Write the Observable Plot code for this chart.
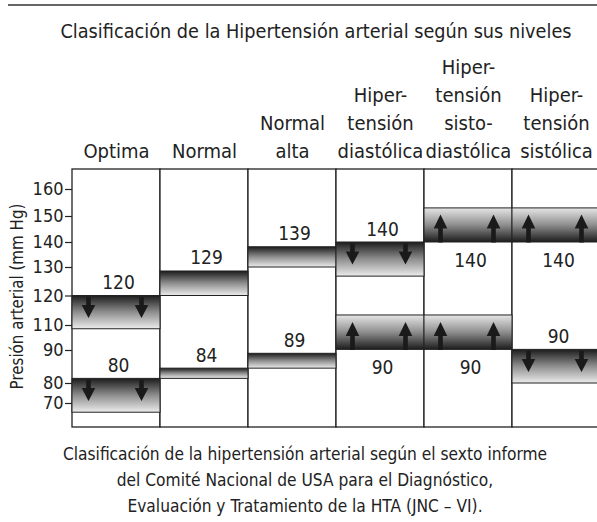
<!DOCTYPE html>
<html>
<head>
<meta charset="utf-8">
<script src="https://cdn.jsdelivr.net/npm/d3@7"></script>
<script src="https://cdn.jsdelivr.net/npm/@observablehq/plot@0.6"></script>
<style>
  html, body { margin: 0; padding: 0; background: #fff; width: 597px; height: 522px; overflow: hidden; }
  body { position: relative; font-family: "DejaVu Sans Condensed", "DejaVu Sans", sans-serif; font-stretch: condensed; color: #222; }
  #rule { position: absolute; left: 8px; top: 4px; width: 589px; height: 2px; background: #666; }
  #title { position: absolute; left: 0; width: 632px; top: 20px; font-size: 19.7px; text-align: center; white-space: nowrap; }
  #chart { position: absolute; left: 0; top: 50px; }
  #caption { position: absolute; left: 0; width: 610px; top: 441px; font-size: 17.2px; line-height: 26px; text-align: center; white-space: nowrap; }
</style>
</head>
<body>
<div id="rule"></div>
<div id="title"></div>
<div id="chart"></div>
<div id="caption"></div>
<script>
// ---- data ----
const titleText = "Clasificación de la Hipertensión arterial según sus niveles";
const captionLines = [
  "Clasificación de la hipertensión arterial según el sexto informe",
  "del Comité Nacional de USA para el Diagnóstico,",
  "Evaluación y Tratamiento de la HTA (JNC – VI)."
];
const yLabel = "Presión arterial (mm Hg)";
const categories = ["Optima", "Normal", "Normal alta", "Hipertensión diastólica", "Hipertensión sisto-diastólica", "Hipertensión sistólica"];
const headerLabels = ["Optima", "Normal", "Normal\nalta", "Hiper-\ntensión\ndiastólica", "Hiper-\ntensión\nsisto-\ndiastólica", "Hiper-\ntensión\nsistólica"];
const yTicks = [160, 150, 140, 130, 120, 110, 90, 80, 70];

const systolicLabels = [120, 129, 139, 140, 140, 140];
const systolicTop = [120, 128.6, 138.1, 140, 153, 153];
const systolicBottom = [107, 120, 130, 126.8, 140, 140];
const systolicArrow = ["down", "none", "none", "down", "up", "up"];
const systolicLabelSide = ["above", "above", "above", "above", "below", "below"];

const diastolicLabels = [80, 84, 89, 90, 90, 90];
const diastolicTop = [81.4, 84.5, 89, 113.4, 113.4, 90.5];
const diastolicBottom = [65.4, 81.4, 84.5, 90.5, 90.5, 80];
const diastolicArrow = ["down", "none", "none", "up", "up", "down"];
const diastolicLabelSide = ["above", "above", "above", "below", "below", "above"];

// ---- build ----
document.getElementById("title").textContent = titleText;
const cap = document.getElementById("caption");
captionLines.forEach(t => { const d = document.createElement("div"); d.textContent = t; cap.appendChild(d); });

const bands = categories.flatMap((cat, i) => [
  {cat, top: systolicTop[i], bottom: systolicBottom[i], arrow: systolicArrow[i], label: systolicLabels[i], side: systolicLabelSide[i]},
  {cat, top: diastolicTop[i], bottom: diastolicBottom[i], arrow: diastolicArrow[i], label: diastolicLabels[i], side: diastolicLabelSide[i]}
]);
const darkTop = bands.filter(d => d.arrow !== "up");
const darkBottom = bands.filter(d => d.arrow === "up");
const downs = bands.filter(d => d.arrow === "down");
const ups = bands.filter(d => d.arrow === "up");
const above = bands.filter(d => d.side === "above");
const below = bands.filter(d => d.side === "below");

const arrowDown = {draw(ctx) {
  ctx.moveTo(-2.3, 1); ctx.lineTo(2.3, 1); ctx.lineTo(2.3, 9); ctx.lineTo(6.8, 9);
  ctx.lineTo(0, 22); ctx.lineTo(-6.8, 9); ctx.lineTo(-2.3, 9); ctx.closePath();
}};
const arrowUp = {draw(ctx) {
  ctx.moveTo(-2.3, 0); ctx.lineTo(2.3, 0); ctx.lineTo(2.3, -14); ctx.lineTo(6.8, -14);
  ctx.lineTo(0, -28); ctx.lineTo(-6.8, -14); ctx.lineTo(-2.3, -14); ctx.closePath();
}};

const FONT = "'DejaVu Sans Condensed', 'DejaVu Sans', sans-serif";

const chart = Plot.plot({
  width: 597,
  height: 382,
  marginTop: 119,
  marginBottom: 5,
  marginLeft: 72,
  marginRight: 0,
  style: {fontFamily: FONT, fontStretch: "condensed", color: "#222", background: "transparent", overflow: "visible"},
  x: {type: "band", domain: categories, range: [72, 600], padding: 0},
  y: {type: "linear", domain: yTicks.slice().reverse(), range: [353, 333, 300, 275, 245.5, 217, 192, 166, 139]},
  marks: [
    Plot.axisX({anchor: "top", tickSize: 0, tickPadding: 12, fontSize: 20, lineHeight: 1.4, label: null,
      tickFormat: d => headerLabels[categories.indexOf(d)]}),
    Plot.axisY({ticks: yTicks, tickSize: 11, tickPadding: 2, dx: 4, fontSize: 18, label: null, strokeWidth: 1.2}),
    Plot.cell(categories, {x: d => d, fill: "white", stroke: "#222", strokeWidth: 1.3, inset: 0}),
    Plot.barY(darkTop, {x: "cat", y1: "bottom", y2: "top", fill: "url(#gDown)", stroke: "#222", strokeWidth: 1, inset: 0}),
    Plot.barY(darkBottom, {x: "cat", y1: "bottom", y2: "top", fill: "url(#gUp)", stroke: "#222", strokeWidth: 1, inset: 0}),
    Plot.dot(downs, {x: "cat", y: "top", symbol: arrowDown, r: 11, dx: -28, fill: "#1a1a1a", stroke: "none"}),
    Plot.dot(downs, {x: "cat", y: "top", symbol: arrowDown, r: 11, dx: 25, fill: "#1a1a1a", stroke: "none"}),
    Plot.dot(ups, {x: "cat", y: "bottom", symbol: arrowUp, r: 11, dx: -28, fill: "#1a1a1a", stroke: "none"}),
    Plot.dot(ups, {x: "cat", y: "bottom", symbol: arrowUp, r: 11, dx: 25, fill: "#1a1a1a", stroke: "none"}),
    Plot.text(above, {x: "cat", y: "top", text: "label", lineAnchor: "bottom", dy: -7, dx: 2, fontSize: 19, fill: "#222"}),
    Plot.text(below, {x: "cat", y: "bottom", text: "label", lineAnchor: "top", dy: 10.5, dx: 2, fontSize: 19, fill: "#222"}),
    Plot.text([yLabel], {text: d => d, frameAnchor: "left", textAnchor: "middle", lineAnchor: "middle", rotate: -90, dx: -55, dy: -2, fontSize: 16.8, fill: "#222"})
  ]
});

const ns = "http://www.w3.org/2000/svg";
const defs = document.createElementNS(ns, "defs");
defs.innerHTML =
  '<linearGradient id="gDown" x1="0" y1="0" x2="0" y2="1">' +
  '<stop offset="0" stop-color="#1c1c1c"/><stop offset="0.5" stop-color="#8e8e8e"/><stop offset="1" stop-color="#ececec"/></linearGradient>' +
  '<linearGradient id="gUp" x1="0" y1="0" x2="0" y2="1">' +
  '<stop offset="0" stop-color="#e6e6e6"/><stop offset="0.5" stop-color="#8e8e8e"/><stop offset="1" stop-color="#1c1c1c"/></linearGradient>';
chart.insertBefore(defs, chart.firstChild);
document.getElementById("chart").appendChild(chart);
</script>
</body>
</html>
